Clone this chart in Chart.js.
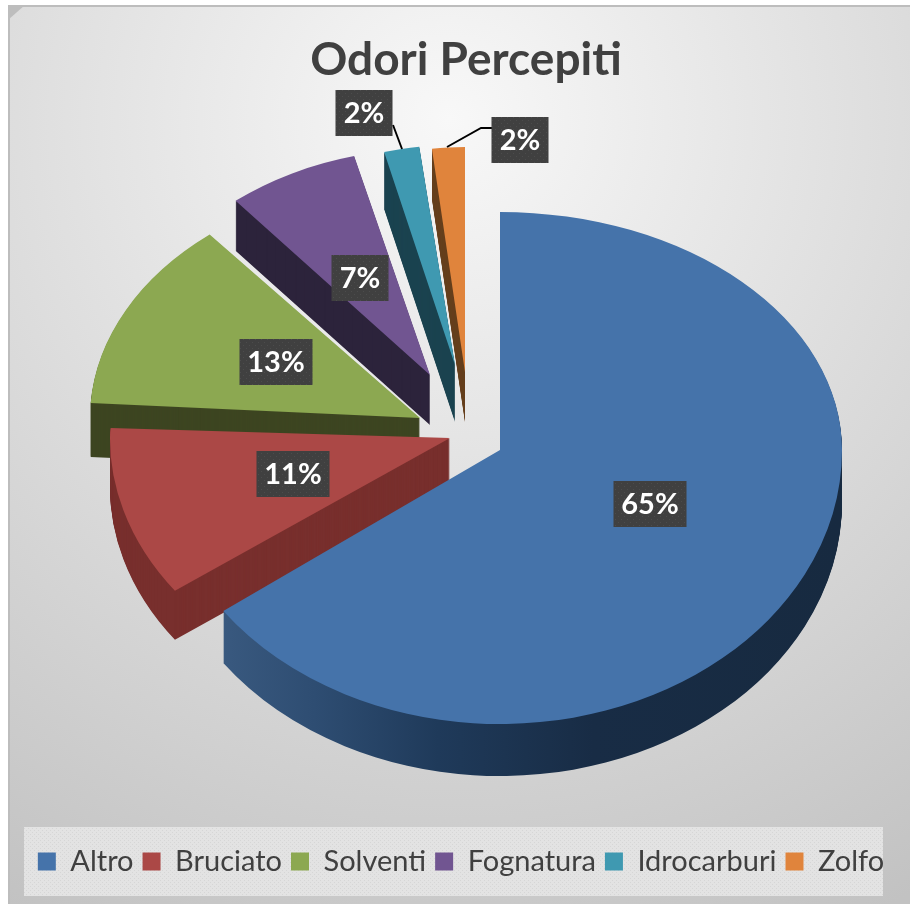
<!DOCTYPE html>
<html><head><meta charset="utf-8">
<style>html,body{margin:0;padding:0;background:#fff}canvas{display:block}</style>
<script src="https://cdn.jsdelivr.net/npm/chart.js@4"></script>
</head><body>
<div style="width:910px;height:904px"><canvas id="c" width="910" height="904"></canvas></div>
<script>
const categories = ['Altro','Bruciato','Solventi','Fognatura','Idrocarburi','Zolfo'];
const values = [65,11,13,7,2,2];
const colors = ['#4573AA','#AB4846','#8CA851','#715591','#3F99B1','#E0843C'];
const sideColors = ['#1A2F49','#782F2D','#3D4521','#2C233B','#1B4350','#66401E'];
// exploded, perspective-flattened placement of each slice: apex x, apex y, rx, ry above apex, ry below apex, depth
const placement = [
  [500,450,342,238,274,52],
  [450,438,340,160,260,49],
  [420,418,330,238,238,54],
  [430,375,305,226,226,50],
  [455,365,285,220,220,57],
  [465,372,264,225,225,50]
];
const labelCentres = [[650,504],[293,474],[276,362],[360,278],[364,113],[520,140]];
const leaders = [null,null,null,null,[[393,125],[402,149]],[[447,147],[481,128],[492,128]]];

function drawArc(ctx, arc, i, fill, dy, part){
  const [ax,ay,rx,ryU,ryD] = placement[i];
  const ry = part==='down' ? ryD : ryU;
  const R = arc.outerRadius;
  ctx.save();
  if(part){
    ctx.beginPath();
    if(part==='up') ctx.rect(0,0,910,ay+dy);
    else ctx.rect(0,ay+dy,910,904);
    ctx.clip();
  }
  ctx.translate(ax,ay+dy);
  ctx.scale(rx/R,ry/R);
  ctx.translate(-arc.x,-arc.y);
  const proxy = Object.create(arc);
  let style = fill;
  if(typeof fill==='function') style = fill(ctx,arc,rx/R,ax);
  proxy.options = {backgroundColor:style,borderColor:style,borderWidth:0,borderAlign:'center',offset:0,spacing:0,
    circular:true,borderRadius:0,borderJoinStyle:'round',borderDash:[],borderDashOffset:0,selfJoin:false};
  Chart.elements.ArcElement.prototype.draw.call(proxy,ctx);
  ctx.restore();
}
function altroSide(ctx,arc,sx,ax){
  const lx = p => (p-ax)/sx+arc.x;
  const g = ctx.createLinearGradient(lx(222),0,lx(840),0);
  g.addColorStop(0,'#39597F');
  g.addColorStop(0.15,'#2E4D72');
  g.addColorStop(0.35,'#1F3A5A');
  g.addColorStop(0.6,'#182C45');
  g.addColorStop(1,'#172A40');
  return g;
}
function dotPattern(ctx,base,dot,size){
  const p = document.createElement('canvas');p.width=size;p.height=size;
  const c = p.getContext('2d');
  c.fillStyle=base;c.fillRect(0,0,size,size);
  c.fillStyle=dot;c.fillRect(0,0,1,1);c.fillRect(size/2,size/2,1,1);
  return ctx.createPattern(p,'repeat');
}
const scene = {
  id:'scene',
  afterLayout(chart){
    chart.legend.left-=5;chart.legend.right-=5;
  },
  beforeDraw(chart){
    const ctx = chart.ctx;
    ctx.save();
    ctx.fillStyle='#fff';ctx.fillRect(0,0,910,904);
    const g = ctx.createRadialGradient(450,120,0,450,120,900);
    g.addColorStop(0,'#F8F8F8');g.addColorStop(1,'#C2C2C2');
    ctx.fillStyle=g;ctx.fillRect(8,5,902,899);
    ctx.strokeStyle='#BDBDBD';ctx.lineWidth=2;
    ctx.beginPath();ctx.moveTo(9,904);ctx.lineTo(9,6);ctx.lineTo(910,6);ctx.stroke();
    ctx.fillStyle='#BDBDBD';ctx.beginPath();ctx.moveTo(8,5);ctx.lineTo(25,5);ctx.lineTo(8,20);ctx.fill();
    ctx.fillStyle=dotPattern(ctx,'#E3E3E3','#D6D6D6',4);
    ctx.fillRect(24,827,859,69);
    ctx.restore();
  },
  beforeDatasetsDraw(chart){
    const ctx = chart.ctx;
    const arcs = chart.getDatasetMeta(0).data;
    for(let i=arcs.length-1;i>=0;i--){
      const depth = placement[i][5];
      const parts = placement[i][3]!==placement[i][4] ? ['up','down'] : [null];
      const side = i===0 ? altroSide : sideColors[i];
      for(let d=depth;d>=1;d--) for(const p of parts) drawArc(ctx,arcs[i],i,side,d,p);
      for(const p of parts) drawArc(ctx,arcs[i],i,colors[i],0,p);
    }
    // leaders and value boxes
    ctx.save();
    ctx.strokeStyle='#000';ctx.lineWidth=2;
    leaders.forEach(l=>{ if(!l) return;
      ctx.beginPath();l.forEach((p,k)=>k?ctx.lineTo(p[0],p[1]):ctx.moveTo(p[0],p[1]));ctx.stroke();});
    ctx.font='bold 29px Lato, Carlito, sans-serif';
    ctx.textAlign='center';ctx.textBaseline='middle';
    const pat = dotPattern(ctx,'#404040','#4C4C4C',6);
    values.forEach((v,i)=>{
      const t = v+'%';const [cx,cy]=labelCentres[i];
      const w = Math.round(ctx.measureText(t).width)+16, h=46;
      ctx.fillStyle=pat;ctx.fillRect(cx-w/2,cy-h/2,w,h);
      ctx.fillStyle='#fff';ctx.fillText(t,cx,cy+1);
    });
    ctx.restore();
    return false;
  }
};
new Chart(document.getElementById('c'),{
  type:'pie',
  data:{labels:categories,datasets:[{data:values,backgroundColor:colors,borderWidth:0}]},
  options:{
    responsive:false,animation:false,
    layout:{padding:{left:22,right:0,top:33,bottom:18}},
    plugins:{
      tooltip:{enabled:false},
      title:{display:true,text:'Odori Percepiti',color:'#404040',font:{family:'Lato, Carlito, sans-serif',size:46,weight:'bold'},padding:{top:0,bottom:10}},
      legend:{position:'bottom',labels:{boxWidth:18,boxHeight:18,padding:9,color:'#404040',font:{family:'Lato, Carlito, sans-serif',size:29}}}
    }
  },
  plugins:[scene]
});
</script>
</body></html>
